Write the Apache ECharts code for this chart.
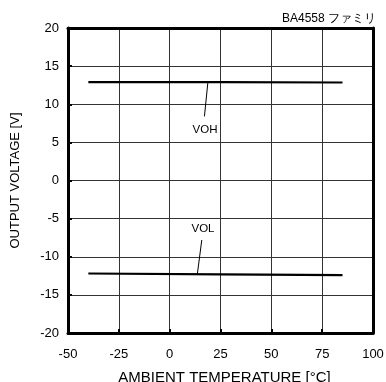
<!DOCTYPE html>
<html>
<head>
<meta charset="utf-8">
<script src="https://cdn.jsdelivr.net/npm/echarts@6/dist/echarts.min.js"></script>
<style>
  html, body { margin: 0; padding: 0; background: #fff; }
  #chart { width: 386px; height: 382px; }
</style>
</head>
<body>
<div id="chart"></div>
<script>
// Ambient temperature sample points [°C]
const temps = [-40, 25, 85];
// High-level output voltage VOH [V]
const voh = [12.9, 12.9, 12.85];
// Low-level output voltage VOL [V]
const vol = [-12.2, -12.3, -12.4];
// Axis ticks
const xTicks = [-50, -25, 0, 25, 50, 75, 100];
const yTicks = [-20, -15, -10, -5, 0, 5, 10, 15, 20];
// Leader lines for the curve labels, in data units [temp, volt]
const vohLeader = [[18.8, 12.9], [17.1, 8.4]];
const vohLabelPos = [17.4, 6.6];
const volLeader = [[15.8, -7.8], [13.6, -12.3]];
const volLabelPos = [16.4, -6.4];

const font = 'Liberation Sans, Arial, sans-serif';
const xRange = { min: xTicks[0], max: xTicks[xTicks.length - 1], interval: 25 };
const yRange = { min: yTicks[0], max: yTicks[yTicks.length - 1], interval: 5 };

const chart = echarts.init(document.getElementById('chart'), null, { renderer: 'canvas' });

function pairs(xs, ys) { return xs.map((x, i) => [x, ys[i]]); }

function leaderSeries(name, seg, labelPos) {
  return {
    name: name + ' label',
    type: 'line',
    data: seg,
    symbol: 'none',
    silent: true,
    lineStyle: { color: '#000', width: 1 },
    markPoint: {
      symbolSize: 0,
      data: [{ coord: labelPos, value: name }],
      label: { show: true, formatter: name, color: '#000', fontSize: 11.5, fontFamily: font }
    }
  };
}

// plain border axis used for the top and right edges of the frame
function frameAxis(range, position) {
  return Object.assign({
    type: 'value', position: position,
    axisLine: { show: true, onZero: false, lineStyle: { color: '#000', width: 3 } },
    axisTick: { show: false }, axisLabel: { show: false }, splitLine: { show: false }
  }, range);
}

chart.setOption({
  animation: false,
  title: {
    text: 'BA4558 ファミリ',
    right: 5,
    top: 8,
    textStyle: { fontSize: 12, fontWeight: 'normal', color: '#000', fontFamily: font }
  },
  grid: { left: 68, right: 13, top: 28, bottom: 49, containLabel: false, outerBoundsMode: 'none' },
  xAxis: [Object.assign({
    type: 'value',
    name: 'AMBIENT TEMPERATURE [°C]',
    nameLocation: 'middle', nameGap: 37,
    nameTextStyle: { fontSize: 15, color: '#000', fontFamily: font, padding: [0, 0, 0, 8] },
    axisLine: { show: true, onZero: false, lineStyle: { color: '#000', width: 3 } },
    axisTick: { show: true, inside: true, length: 4, lineStyle: { color: '#000', width: 2 } },
    axisLabel: { fontSize: 13, color: '#000', margin: 15, fontFamily: font },
    splitLine: { show: true, lineStyle: { color: '#333', width: 1 } }
  }, xRange), frameAxis(xRange, 'top')],
  yAxis: [Object.assign({
    type: 'value',
    name: 'OUTPUT VOLTAGE [V]',
    nameLocation: 'middle', nameGap: 46,
    nameTextStyle: { fontSize: 13, color: '#000', fontFamily: font },
    axisLine: { show: true, onZero: false, lineStyle: { color: '#000', width: 3 } },
    axisTick: { show: true, inside: true, length: 4, lineStyle: { color: '#000', width: 2 } },
    axisLabel: { fontSize: 13, color: '#000', margin: 9, fontFamily: font },
    splitLine: { show: true, lineStyle: { color: '#333', width: 1 } }
  }, yRange), frameAxis(yRange, 'right')],
  series: [
    {
      name: 'VOH', type: 'line', data: pairs(temps, voh), symbol: 'none',
      lineStyle: { color: '#000', width: 2.2 }
    },
    {
      name: 'VOL', type: 'line', data: pairs(temps, vol), symbol: 'none',
      lineStyle: { color: '#000', width: 2.2 }
    },
    leaderSeries('VOH', vohLeader, vohLabelPos),
    leaderSeries('VOL', volLeader, volLabelPos)
  ]
});
</script>
</body>
</html>
